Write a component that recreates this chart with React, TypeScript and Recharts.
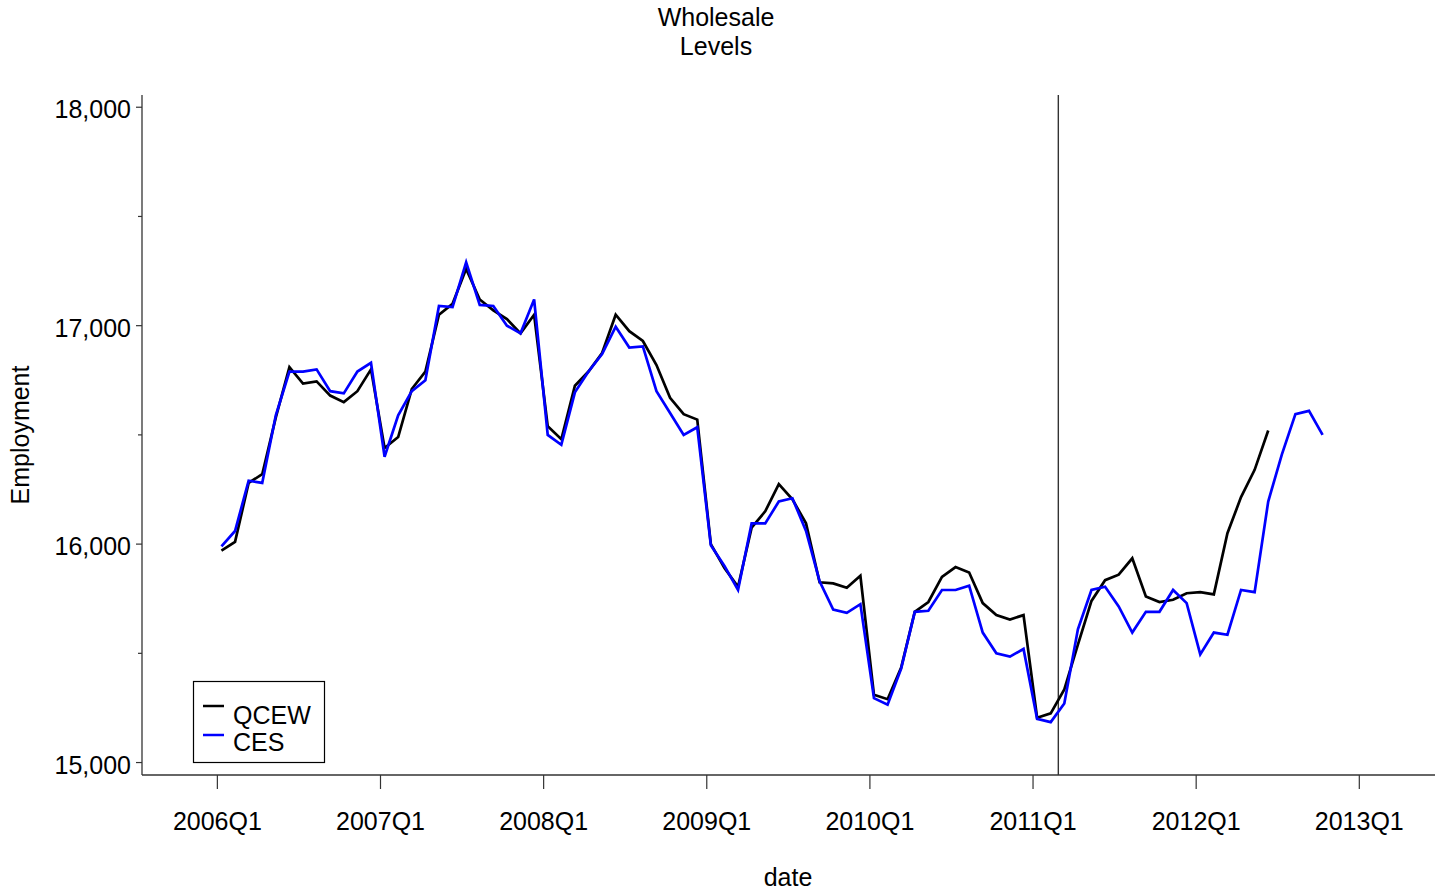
import React from 'react';
import { LineChart, Line, XAxis, YAxis, ReferenceLine } from 'recharts';

// monthly employment levels (thousands), Jan 2006 onwards
const qcew = [
  15970, 16010, 16280, 16320, 16580, 16810, 16735, 16745, 16680, 16650, 16700, 16800,
  16440, 16490, 16710, 16790, 17050, 17100, 17260, 17120, 17070, 17030, 16965, 17050,
  16540, 16480, 16725, 16790, 16875, 17050, 16975, 16930, 16820, 16670, 16595, 16570,
  16000, 15890, 15805, 16075, 16150, 16275, 16205, 16095, 15825, 15820, 15800, 15855,
  15310, 15290, 15435, 15690, 15735, 15850, 15895, 15870, 15730, 15675, 15655, 15675,
  15205, 15225, 15335, 15540, 15740, 15835, 15860, 15935, 15760, 15735, 15745, 15775,
  15780, 15770, 16050, 16215, 16340, 16520,
];

const ces = [
  15990, 16060, 16290, 16280, 16590, 16790, 16790, 16800, 16700, 16690, 16790, 16830,
  16400, 16590, 16700, 16750, 17090, 17085, 17290, 17095, 17090, 17000, 16965, 17120,
  16500, 16455, 16695, 16790, 16870, 16995, 16900, 16905, 16700, 16600, 16500, 16535,
  15995, 15900, 15790, 16095, 16095, 16195, 16210, 16060, 15830, 15700, 15685, 15725,
  15295, 15265, 15430, 15690, 15695, 15790, 15790, 15810, 15595, 15500, 15485, 15520,
  15200, 15185, 15270, 15610, 15790, 15805, 15715, 15595, 15690, 15690, 15790, 15730,
  15495, 15595, 15585, 15790, 15780, 16195, 16410, 16595, 16610, 16500,
];

const startYear = 2006;
const xTicks = [2006, 2007, 2008, 2009, 2010, 2011, 2012, 2013];
const yTicks = [15000, 15500, 16000, 16500, 17000, 17500, 18000];
const breakDate = 2011.155;

const data = ces.map((c, i) => ({
  t: startYear + (i + 0.3) / 12,
  QCEW: i < qcew.length ? qcew[i] : null,
  CES: c,
}));

const FONT = "'Liberation Sans', Arial, sans-serif";
const AXIS = '#333';

const XTick = (props: any) => {
  const { x, y, payload } = props;
  return (
    <g>
      <line x1={x} x2={x} y1={y} y2={y + 14} stroke={AXIS} strokeWidth={1.2} />
      <text x={x} y={y + 55} textAnchor="middle" fontSize={25} fill="#000" fontFamily={FONT}>
        {`${payload.value}Q1`}
      </text>
    </g>
  );
};

const YTick = (props: any) => {
  const { x, y, payload } = props;
  const major = payload.value % 1000 === 0;
  return (
    <g>
      <line x1={x} x2={x - (major ? 6 : 4)} y1={y} y2={y} stroke={AXIS} strokeWidth={1.2} />
      {major && (
        <text x={x - 11} y={y} dy={11} textAnchor="end" fontSize={25} fill="#000" fontFamily={FONT}>
          {payload.value.toLocaleString('en-US')}
        </text>
      )}
    </g>
  );
};

export default function App() {
  return (
    <div style={{ position: 'absolute', left: 0, top: 0, width: 1442, height: 894, background: '#fff', fontFamily: FONT }}>
      <LineChart width={1442} height={894} data={data} margin={{ top: 95, right: 7, bottom: 0, left: 0 }}>
        <XAxis
          dataKey="t"
          type="number"
          domain={[2005.538, 2013.464]}
          ticks={xTicks}
          interval={0}
          height={119}
          tickLine={false}
          tickSize={0}
          tickMargin={0}
          tick={<XTick />}
          axisLine={{ stroke: AXIS, strokeWidth: 1.3 }}
          allowDataOverflow
        />
        <YAxis
          type="number"
          domain={[14943, 18056]}
          ticks={yTicks}
          interval={0}
          width={142}
          tickLine={false}
          tickSize={0}
          tickMargin={0}
          tick={<YTick />}
          axisLine={{ stroke: AXIS, strokeWidth: 1.3 }}
          allowDataOverflow
        />
        <ReferenceLine x={breakDate} stroke={AXIS} strokeWidth={1.4} />
        <Line type="linear" dataKey="QCEW" stroke="#000" strokeWidth={2.7} dot={false} isAnimationActive={false} />
        <Line type="linear" dataKey="CES" stroke="#0000ff" strokeWidth={2.7} dot={false} isAnimationActive={false} />
      </LineChart>
      <svg width={1442} height={894} style={{ position: 'absolute', left: 0, top: 0, pointerEvents: 'none' }}>
        <g fontFamily={FONT} fontSize={25} fill="#000">
          <text x={716} y={26} textAnchor="middle">Wholesale</text>
          <text x={716} y={55} textAnchor="middle">Levels</text>
          <text x={788} y={886} textAnchor="middle">date</text>
          <text x={29} y={435} textAnchor="middle" transform="rotate(-90 29 435)">Employment</text>
          <rect x={193.5} y={681.5} width={131} height={81} fill="#fff" stroke="#000" strokeWidth={1.2} />
          <line x1={203} x2={224} y1={706} y2={706} stroke="#000" strokeWidth={2.5} />
          <line x1={203} x2={224} y1={735} y2={735} stroke="#0000ff" strokeWidth={2.5} />
          <text x={233} y={724}>QCEW</text>
          <text x={233} y={751}>CES</text>
        </g>
      </svg>
    </div>
  );
}
